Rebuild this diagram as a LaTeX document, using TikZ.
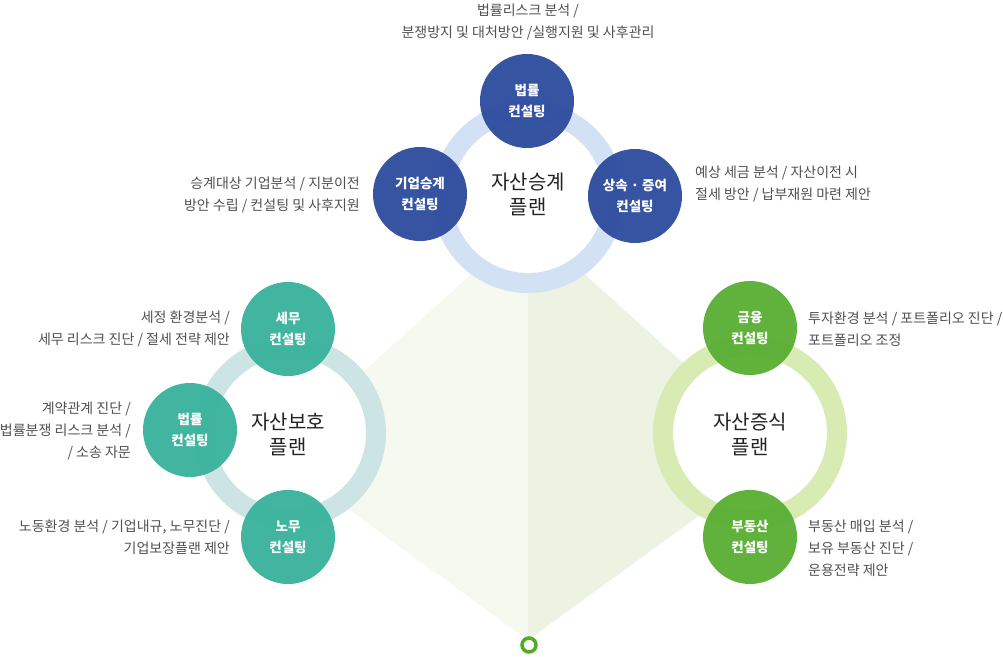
\documentclass[tikz,border=0pt]{standalone}
\usepackage{fontspec}
\setmainfont{Noto Sans CJK KR}
\usetikzlibrary{positioning}
\definecolor{plan_blue}{RGB}{46, 77, 158}
\definecolor{plan_teal}{RGB}{58, 178, 156}
\definecolor{plan_green}{RGB}{90, 175, 52}
\definecolor{ring_blue}{RGB}{211, 225, 245}
\definecolor{ring_teal}{RGB}{204, 229, 228}
\definecolor{ring_green}{RGB}{216, 235, 179}
\definecolor{kite_left}{RGB}{245, 249, 240}
\definecolor{kite_right}{RGB}{236, 243, 227}
\definecolor{dot_green}{RGB}{82, 172, 40}
\definecolor{desc_gray}{RGB}{80, 80, 80}
\definecolor{title_black}{RGB}{34, 34, 34}
\def \descfont {\fontsize{14}{22}\selectfont}
\def \plfont {\fontsize{20}{25}\selectfont}
\def \cfont {\fontsize{13.5}{21}\selectfont\bfseries}

\begin{document}
\begin{tikzpicture}[
    x=1pt, y=-1pt,
    ring/.style={
        draw=#1,
        fill=white,
        line width=20pt
    },
    consult/.style={
        circle,
        fill=#1,
        fill opacity=0.96,
        text opacity=1,
        minimum size=94pt,
        inner sep=0pt,
        text=white,
        align=center,
        font=\cfont
    },
    plan/.style={
        text=title_black,
        align=center,
        font=\plfont
    },
    desc/.style={
        text=desc_gray,
        align=#1,
        inner sep=0pt,
        font=\descfont
    }
]
\path[use as bounding box] (0,0) rectangle (1003,656);

% Background kite
\fill[kite_left] (528,223) -- (272,454) -- (528,640) -- cycle;
\fill[kite_right] (528,223) -- (784,454) -- (528,640) -- cycle;
\node[circle, draw=dot_green, fill=white, line width=3.5pt, minimum size=14pt, inner sep=0pt] (tip) at (529,645) {};

% Rings
\coordinate (inherit) at (528,197);
\coordinate (protect) at (290,433);
\coordinate (grow) at (750,433);
\draw[ring=ring_blue] (inherit) circle[radius=86pt];
\draw[ring=ring_teal] (protect) circle[radius=86pt];
\draw[ring=ring_green] (grow) circle[radius=87pt];

% Plan titles
\node[plan] (inherittitle) at (528,194) {자산승계\\플랜};
\node[plan] (protecttitle) at (288,434) {자산보호\\플랜};
\node[plan] (growtitle) at (750,434) {자산증식\\플랜};

% Top - succession consulting
\node[consult=plan_blue] (law) at (527,101) {법률\\컨설팅};
\node[consult=plan_blue] (corp) at (420,194) {기업승계\\컨설팅};
\node[consult=plan_blue] (gift) at (635,196) {상속 · 증여\\컨설팅};

% Left - protection consulting
\node[consult=plan_teal] (tax) at (288,329) {세무\\컨설팅};
\node[consult=plan_teal] (legal) at (190,430) {법률\\컨설팅};
\node[consult=plan_teal] (labor) at (288,537) {노무\\컨설팅};

% Right - growth consulting
\node[consult=plan_green] (finance) at (750,328) {금융\\컨설팅};
\node[consult=plan_green] (estate) at (750,537) {부동산\\컨설팅};

% Descriptions
\node[desc=center] (lawtext) at (528,22) {법률리스크 분석 /\\분쟁방지 및 대처방안 /실행지원 및 사후관리};
\node[desc=right, anchor=east] (corptext) at (360,195) {승계대상 기업분석 / 지분이전\\방안 수립 / 컨설팅 및 사후지원};
\node[desc=left, anchor=west] (gifttext) at (695,184) {예상 세금 분석 / 자산이전 시\\절세 방안 / 납부재원 마련 제안};
\node[desc=right, anchor=east] (taxtext) at (230,329) {세정 환경분석 /\\세무 리스크 진단 / 절세 전략 제안};
\node[desc=right, anchor=east] (legaltext) at (131,431) {계약관계 진단 /\\법률분쟁 리스크 분석 /\\/ 소송 자문};
\node[desc=right, anchor=east] (labortext) at (230,537) {노동환경 분석 / 기업내규, 노무진단 /\\기업보장플랜 제안};
\node[desc=left, anchor=west] (financetext) at (808,329) {투자환경 분석 / 포트폴리오 진단 /\\포트폴리오 조정};
\node[desc=left, anchor=west] (estatetext) at (808,548) {부동산 매입 분석 /\\보유 부동산 진단 /\\운용전략 제안};

\end{tikzpicture}
\end{document}
